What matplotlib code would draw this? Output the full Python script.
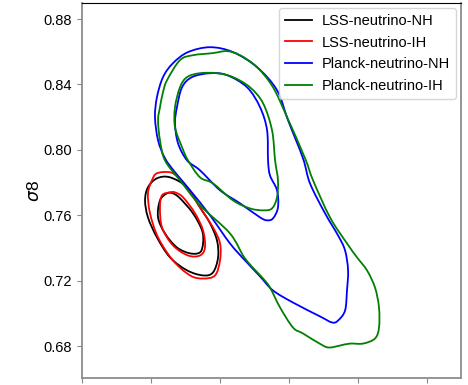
import matplotlib
matplotlib.use('Agg')
import matplotlib.pyplot as plt
from matplotlib.path import Path
from matplotlib.patches import PathPatch
import numpy as np

plt.rcParams['font.family'] = ['Liberation Sans', 'DejaVu Sans']

# contour levels (x, sigma8)
lss_nh_2s_x = [0.2638, 0.2761, 0.2855, 0.2928, 0.2978, 0.2986, 0.2949, 0.2877, 0.2761, 0.2638, 0.2543, 0.2478, 0.2457, 0.2478, 0.2543]
lss_nh_2s_y = [0.7832, 0.7771, 0.7648, 0.7550, 0.7446, 0.7342, 0.7250, 0.7232, 0.7263, 0.7342, 0.7465, 0.7587, 0.7691, 0.7771, 0.7826]
lss_nh_1s_x = [0.2659, 0.2710, 0.2804, 0.2870, 0.2877, 0.2855, 0.2783, 0.2688, 0.2601, 0.2551, 0.2565, 0.2616]
lss_nh_1s_y = [0.7734, 0.7704, 0.7612, 0.7507, 0.7428, 0.7373, 0.7367, 0.7403, 0.7489, 0.7587, 0.7691, 0.7734]

lss_ih_2s_x = [0.2696, 0.2761, 0.2855, 0.2949, 0.3000, 0.3000, 0.2964, 0.2877, 0.2783, 0.2659, 0.2551, 0.2493, 0.2478, 0.2507, 0.2543, 0.2638]
lss_ih_2s_y = [0.7832, 0.7771, 0.7648, 0.7526, 0.7428, 0.7324, 0.7232, 0.7213, 0.7232, 0.7324, 0.7465, 0.7612, 0.7734, 0.7814, 0.7857, 0.7863]
lss_ih_1s_x = [0.2674, 0.2732, 0.2819, 0.2877, 0.2891, 0.2855, 0.2768, 0.2659, 0.2580, 0.2565, 0.2580, 0.2638]
lss_ih_1s_y = [0.7740, 0.7710, 0.7612, 0.7507, 0.7403, 0.7354, 0.7354, 0.7416, 0.7526, 0.7648, 0.7722, 0.7740]

planck_nh_2s_x = [0.2928, 0.3094, 0.3268, 0.3413, 0.3493, 0.3601, 0.3652, 0.3761, 0.3855, 0.3906, 0.3928, 0.3920, 0.3906, 0.3855, 0.3812, 0.3725,
                  0.3529, 0.3384, 0.3290, 0.3181, 0.3072, 0.2928, 0.2783, 0.2674, 0.2601, 0.2551, 0.2529, 0.2543, 0.2587, 0.2659, 0.2768]
planck_nh_2s_y = [0.8628, 0.8598, 0.8506, 0.8365, 0.8181, 0.7949, 0.7795, 0.7612, 0.7477, 0.7385, 0.7263, 0.7140, 0.7017, 0.6956, 0.6944, 0.6981,
                  0.7066, 0.7140, 0.7226, 0.7324, 0.7428, 0.7599, 0.7753, 0.7863, 0.7949, 0.8059, 0.8200, 0.8322, 0.8445, 0.8530, 0.8598]
planck_nh_1s_x = [0.2928, 0.3051, 0.3196, 0.3290, 0.3341, 0.3348, 0.3362, 0.3413, 0.3420, 0.3384, 0.3341, 0.3290, 0.3145, 0.3000, 0.2855, 0.2761,
                  0.2696, 0.2674, 0.2688, 0.2725, 0.2797]
planck_nh_1s_y = [0.8469, 0.8457, 0.8383, 0.8261, 0.8120, 0.7936, 0.7844, 0.7753, 0.7648, 0.7581, 0.7569, 0.7587, 0.7673, 0.7753, 0.7875, 0.7936,
                  0.8040, 0.8163, 0.8261, 0.8383, 0.8445]

planck_ih_2s_x = [0.2949, 0.3051, 0.3145, 0.3268, 0.3384, 0.3486, 0.3616, 0.3674, 0.3797, 0.3920, 0.3993, 0.4065, 0.4123, 0.4152, 0.4152, 0.4123,
                  0.4036, 0.3942, 0.3870, 0.3797, 0.3746, 0.3601, 0.3529, 0.3435, 0.3362, 0.3312, 0.3181, 0.3072, 0.2855, 0.2710, 0.2601, 0.2565,
                  0.2551, 0.2565, 0.2587, 0.2616, 0.2710, 0.2804]
planck_ih_2s_y = [0.8592, 0.8604, 0.8579, 0.8506, 0.8383, 0.8200, 0.7949, 0.7814, 0.7587, 0.7428, 0.7342, 0.7263, 0.7158, 0.7036, 0.6913, 0.6846,
                  0.6815, 0.6815, 0.6803, 0.6791, 0.6803, 0.6877, 0.6913, 0.7036, 0.7158, 0.7213, 0.7336, 0.7489, 0.7661, 0.7814, 0.7936, 0.8059,
                  0.8181, 0.8261, 0.8353, 0.8426, 0.8549, 0.8579]
planck_ih_1s_x = [0.2855, 0.2978, 0.3094, 0.3217, 0.3312, 0.3377, 0.3399, 0.3420, 0.3413, 0.3377, 0.3312, 0.3217, 0.3094, 0.2949, 0.2855, 0.2768,
                  0.2725, 0.2674, 0.2674, 0.2710, 0.2761]
planck_ih_1s_y = [0.8469, 0.8469, 0.8445, 0.8383, 0.8285, 0.8120, 0.7936, 0.7814, 0.7710, 0.7642, 0.7630, 0.7642, 0.7691, 0.7795, 0.7832, 0.7936,
                  0.8016, 0.8138, 0.8261, 0.8383, 0.8445]

labels = ['LSS-neutrino-NH', 'LSS-neutrino-IH', 'Planck-neutrino-NH', 'Planck-neutrino-IH']
colors = ['k', 'r', 'b', 'g']
contours = [
    [(lss_nh_2s_x, lss_nh_2s_y), (lss_nh_1s_x, lss_nh_1s_y)],
    [(lss_ih_2s_x, lss_ih_2s_y), (lss_ih_1s_x, lss_ih_1s_y)],
    [(planck_nh_2s_x, planck_nh_2s_y), (planck_nh_1s_x, planck_nh_1s_y)],
    [(planck_ih_2s_x, planck_ih_2s_y), (planck_ih_1s_x, planck_ih_1s_y)],
]


def closed_curve(xs, ys):
    # closed smooth curve through the traced points (Catmull-Rom as cubic Bezier)
    p = np.column_stack([xs, ys])
    n = len(p)
    verts = [p[0]]
    codes = [Path.MOVETO]
    for i in range(n):
        p0, p1, p2, p3 = p[i - 1], p[i], p[(i + 1) % n], p[(i + 2) % n]
        verts += [p1 + (p2 - p0) / 6, p2 - (p3 - p1) / 6, p2]
        codes += [Path.CURVE4] * 3
    return Path(verts, codes)


fig = plt.figure(figsize=(4.68, 3.85), dpi=100)
ax = fig.add_axes([0.1752, 0.018, 0.8098, 0.974])

for label, color, levels in zip(labels, colors, contours):
    for xs, ys in levels:
        ax.add_patch(PathPatch(closed_curve(xs, ys), fill=False, edgecolor=color, lw=1.3))
    ax.plot([], [], color=color, lw=1.3, label=label)

ax.set_xlim(0.2, 0.4746)
ax.set_ylim(0.6604, 0.8898)
ax.set_xticks([0.20, 0.25, 0.30, 0.35, 0.40, 0.45])
ax.set_xticklabels([])
ax.set_yticks([0.68, 0.72, 0.76, 0.80, 0.84, 0.88])
ax.set_yticklabels(['0.68', '0.72', '0.76', '0.80', '0.84', '0.88'])
ax.tick_params(labelsize=10.5, color='#888888')
ax.set_ylabel(r'$\sigma$8', fontsize=12.5, labelpad=1.5)

for side in ['left', 'bottom', 'right']:
    ax.spines[side].set_color('#8c8c8c')
    ax.spines[side].set_linewidth(1.3)

ax.legend(loc='upper right', fontsize=10.5, labelspacing=0.52, handlelength=1.85,
          handletextpad=0.7, borderaxespad=0.35)

fig.savefig('out.png', dpi=100)
